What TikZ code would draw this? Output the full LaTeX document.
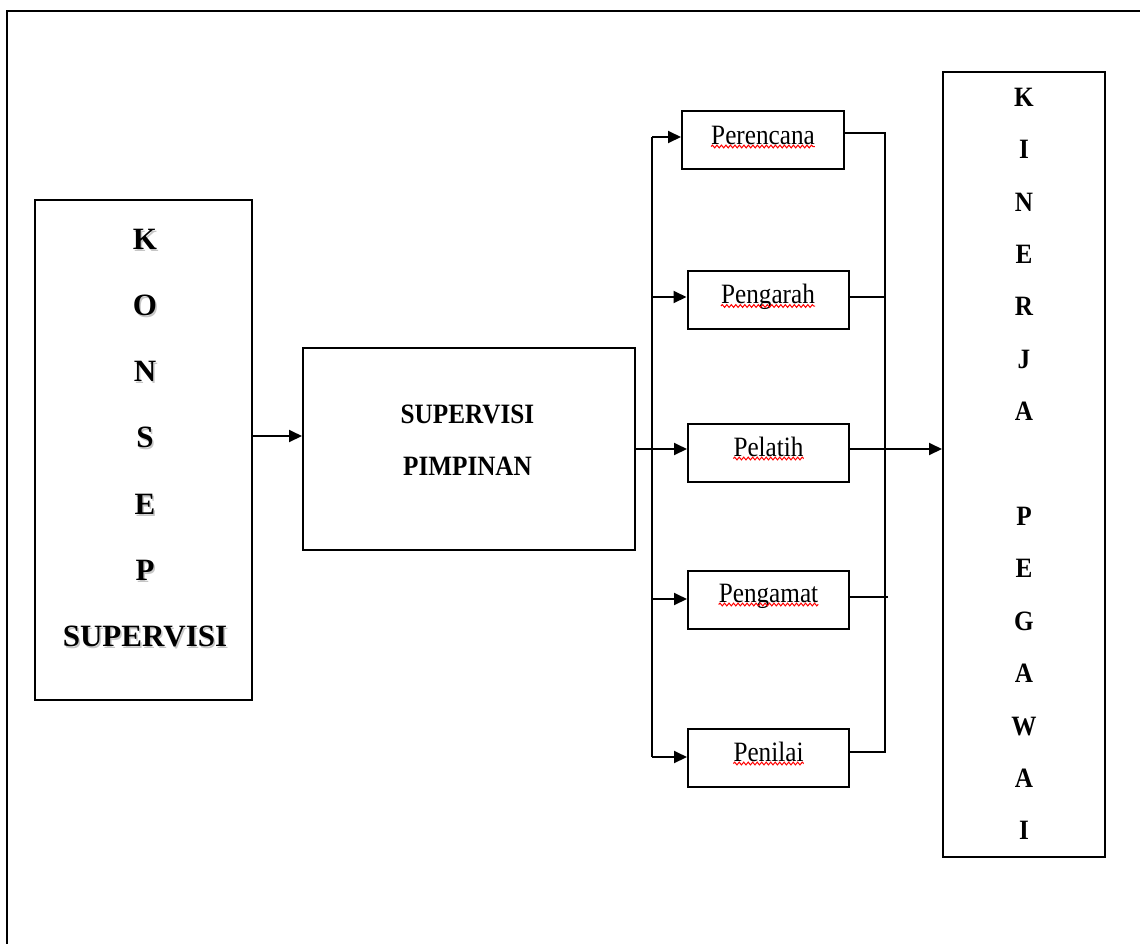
\documentclass[tikz,border=0pt]{standalone}
\usepackage{fontspec}
\setmainfont{Liberation Serif}
\newfontfamily\narrowserif[FakeStretch=0.9]{Liberation Serif}
\usetikzlibrary{arrows.meta,decorations.pathmorphing}

\begin{document}
\begin{tikzpicture}[x=1pt,y=-1pt,
  box/.style={draw,line width=2pt,inner sep=0pt},
  conn/.style={line width=1.9pt},
  arr/.style={conn,-{Triangle[length=13pt,width=12pt]}},
  sublbl/.style={font=\narrowserif\fontsize{28}{28}\selectfont,inner sep=0pt,anchor=base},
  squiggle/.style={draw=red,line width=1pt,decorate,
    decoration={snake,amplitude=1.4pt,segment length=4.5pt}},
  bigtext/.style={font=\bfseries\fontsize{31}{66.3}\selectfont,align=center,inner sep=0pt},
  tall/.style={font=\narrowserif\bfseries\fontsize{28}{52.4}\selectfont,align=center,inner sep=0pt}]

\useasboundingbox (0,0) rectangle (1140,943);

% page frame (runs off the right and bottom edges)
\draw[line width=2.2pt] (7,960) -- (7,11) -- (1160,11);

% left column: concept of supervision
\node[box,line width=2.5pt,minimum width=217pt,minimum height=500pt] (konsep) at (143.5,450) {};
\node[bigtext,text=gray!45] (konsepshadow) at (146.5,440) {K\\O\\N\\S\\E\\P\\SUPERVISI};
\node[bigtext] (konseptext) at (145,438) {K\\O\\N\\S\\E\\P\\SUPERVISI};

% middle box
\node[box,minimum width=332pt,minimum height=202pt] (sp) at (469,449) {};
\node[font=\narrowserif\bfseries\fontsize{28}{52}\selectfont,align=center,inner sep=0pt] (sptext) at (467.5,440) {SUPERVISI\\PIMPINAN};

% five roles
\node[box,minimum width=162pt,minimum height=58pt] (b1) at (763,140) {};
\node[box,minimum width=161pt,minimum height=58pt] (b2) at (768,299.5) {};
\node[box,minimum width=161pt,minimum height=58pt] (b3) at (768.5,453) {};
\node[box,minimum width=161pt,minimum height=58pt] (b4) at (768.5,600) {};
\node[box,minimum width=161pt,minimum height=58pt] (b5) at (768.5,758) {};

\node[sublbl] (t1) at ([yshift=-34pt]b1.north) {Perencana};
\node[sublbl] (t2) at ([yshift=-34pt]b2.north) {Pengarah};
\node[sublbl] (t3) at ([yshift=-33pt]b3.north) {Pelatih};
\node[sublbl] (t4) at ([yshift=-32pt]b4.north) {Pengamat};
\node[sublbl] (t5) at ([yshift=-33pt]b5.north) {Penilai};

\foreach \t in {t1,t2,t3,t4,t5}
  \draw[squiggle] ([yshift=-2.5pt]\t.base west) -- ([yshift=-2.5pt]\t.base east);

% right column: employee performance
\node[box,minimum width=162pt,minimum height=785pt] (kin) at (1024,464.5) {};
\node[tall] (kintext) at (1024,464) {K\\I\\N\\E\\R\\J\\A\\\mbox{}\\P\\E\\G\\A\\W\\A\\I};

% connectors
\coordinate (ka) at (278,436);
\draw[arr] (konsep.east |- ka) -- (sp.west |- ka);

\coordinate (lt) at (652,137);
\coordinate (l2) at (652,297);
\coordinate (m)  at (652,449);
\coordinate (l4) at (652,599);
\coordinate (lb) at (652,757);
\draw[conn] (lt) -- (lb);
\draw[arr] (lt) -- (b1.west |- lt);
\draw[arr] (l2) -- (b2.west |- l2);
\draw[arr] (sp.east |- m) -- (b3.west |- m);
\draw[arr] (l4) -- (b4.west |- l4);
\draw[arr] (lb) -- (b5.west |- lb);

\coordinate (rt) at (885,133);
\coordinate (r2) at (885,297);
\coordinate (r4) at (885,597);
\coordinate (rb) at (885,752);
\draw[conn,line join=miter] (b1.east |- rt) -- (rt) -- (rb) -- (b5.east |- rb);
\draw[conn] (b2.east |- r2) -- (r2);
\draw[conn] (b4.east |- r4) -- ([xshift=3pt]r4);
\draw[arr] (b3.east |- m) -- (kin.west |- m);

\end{tikzpicture}
\end{document}
